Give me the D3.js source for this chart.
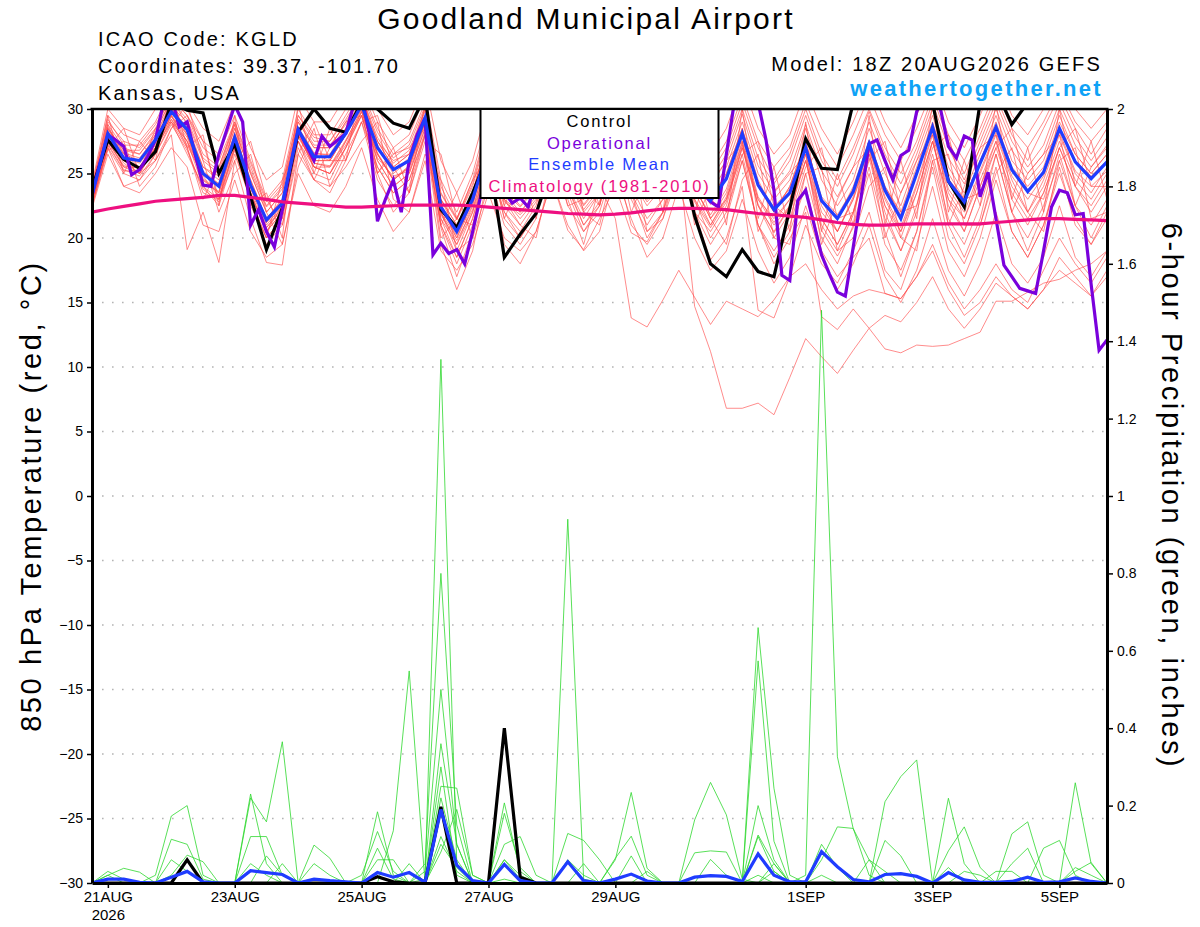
<!DOCTYPE html>
<html>
<head>
<meta charset="utf-8">
<script src="https://d3js.org/d3.v7.min.js"></script>
<style>
  body { margin: 0; background: #fff; }
  text { font-family: "Liberation Sans", Arial, sans-serif; }
</style>
</head>
<body>
<svg id="chart" width="1200" height="927"></svg>
<script>
// ---- data -------------------------------------------------------------
// GEFS run 18Z 20AUG2026, 6-hourly steps (operational is 3-hourly)
const runStart = Date.UTC(2026, 7, 20, 18)
const HOUR = 3600 * 1000

const xTickDates = ['2026-08-21', '2026-08-23', '2026-08-25', '2026-08-27', '2026-08-29', '2026-09-01', '2026-09-03', '2026-09-05']
const xTickLabels = ['21AUG', '23AUG', '25AUG', '27AUG', '29AUG', '1SEP', '3SEP', '5SEP']
const tempTicks = [30, 25, 20, 15, 10, 5, 0, -5, -10, -15, -20, -25, -30]
const precipTicks = [0, 0.2, 0.4, 0.6, 0.8, 1, 1.2, 1.4, 1.6, 1.8, 2]
const precipTickLabels = ['0', '0.2', '0.4', '0.6', '0.8', '1', '1.2', '1.4', '1.6', '1.8', '2']

// 850 hPa temperature (C)
const control = [23.8, 27.6,26.1,25.4,26.7, 30.5,29.9,29.7,25.0, 27.3,23.2,19.1,22.3, 28.2,30.0,28.5,28.2, 30.5,30.0,28.9,28.5, 31.0,22.2,20.8,23.5, 26.5,18.5,20.3,21.9, 25.5,27.0,25.0,26.0, 29.0,27.0,25.0,27.0, 27.0,21.7,18.0,17.0, 19.1,17.4,17.0,22.3, 27.7,25.4,25.3,30.5, 32.0,31.0,31.0,31.0, 30.5,24.4,22.4,30.5, 31.5,28.8,30.5,31.0, 32.0,31.0,30.5,31.0]

const ensMean = [23.3, 28.1,26.2,26.0,27.6, 29.8,28.4,25.0,24.0, 27.8,24.1,21.4,22.7, 28.4,26.3,26.3,28.1, 30.3,27.0,25.3,26.0, 29.3,22.4,20.5,23.0, 27.0,24.5,23.6,24.8, 28.0,26.0,24.0,25.0, 28.5,26.0,24.5,25.5, 28.5,24.5,22.9,24.6, 28.1,24.1,22.2,23.5, 27.0,22.9,21.5,23.6, 27.3,23.7,21.5,25.0, 28.6,24.4,22.8,25.8, 28.6,25.3,23.6,25.1, 28.5,25.9,24.6,25.9]

const climatology = [22.0, 22.25,22.45,22.65,22.85, 22.95,23.05,23.15,23.3, 23.3,23.15,23.0,22.8, 22.7,22.6,22.5,22.4, 22.4,22.45,22.5,22.55, 22.55,22.55,22.55,22.5, 22.4,22.3,22.2,22.1, 22.0,21.9,21.85,21.8, 21.85,21.95,22.1,22.25, 22.3,22.3,22.25,22.2, 22.05,21.9,21.8,21.7, 21.6,21.4,21.2,21.05, 21.0,21.0,21.05,21.1, 21.1,21.1,21.1,21.1, 21.2,21.3,21.4,21.5, 21.5,21.45,21.4,21.35]

// operational, 3-hourly (129 values)
const operational = [23.3, 25.8,28.0,27.6,27.1,24.9,25.3,26.3,27.6, 30.5,31.0,28.6,29.0,26.5,24.1,24.0,26.5, 28.4,30.3,29.0,21.0,22.2,20.5,19.3,22.2, 25.5,28.4,27.2,26.0,27.9,27.1,27.6,28.1, 30.3,31.0,28.0,21.3,23.0,24.5,22.0,26.0, 28.0,29.3,18.7,19.6,18.8,19.1,18.0,20.5, 23.2,25.5,24.5,23.6,22.7,23.1,22.4,24.5, 26.5,28.0,27.0,25.5,24.5,25.5,27.5,26.5, 28.5,29.5,28.0,26.5,25.0,26.0,27.5,26.5, 25.5,27.5,28.5,25.5,23.5,22.8,22.4,26.5, 30.5,32.0,32.0,30.5,27.6,23.7,17.1,16.7, 22.9,23.7,21.2,18.7,17.2,15.8,15.5,19.3, 23.2,27.3,27.6,26.0,24.5,26.4,26.8,29.8, 31.0,31.0,30.0,27.1,26.2,27.9,27.6,23.2, 25.1,21.5,17.9,17.0,16.1,15.9,15.7,19.0, 22.4,23.7,23.5,21.8,21.9,16.4,11.3,12.1]

// ensemble members, temperature
const tempMembers = [
  [23.0, 27.5,25.5,25.0,27.0, 29.5,27.0,23.5,23.0, 27.0,23.5,20.5,22.0, 28.0,25.5,25.0,27.5, 30.0,26.0,24.0,25.0, 28.5,21.5,19.5,22.0, 26.0,22.0,20.5,22.5, 27.0,24.0,21.5,23.5, 27.5,24.0,21.5,23.0, 26.0,14.7,11.2,6.8, 6.8,7.2,6.3,9.2, 12.2,10.8,9.5,11.3, 13.0,11.4,11.1,11.7, 11.6,11.7,12.2,12.7, 15.1,15.1,15.8,16.5, 16.8,17.5,18.0,19.0],
  [22.8, 27.0,25.0,24.5,26.5, 29.0,26.5,24.0,22.5, 26.5,23.0,20.0,21.5, 27.5,25.0,24.5,27.0, 29.5,25.5,23.5,24.5, 28.0,21.0,18.5,21.5, 26.5,21.5,20.0,22.0, 26.0,23.0,19.5,24.0, 21.5,13.8,13.1,15.2, 17.5,15.4,13.3,15.1, 14.5,13.9,15.2,17.0, 18.0,16.0,14.5,15.5, 16.0,15.7,15.3,17.0, 19.0,16.0,14.0,15.0, 17.0,15.5,14.5,16.0, 18.5,17.0,15.5,17.5],
  [23.5, 28.5,26.5,26.0,28.0, 30.5,28.0,24.5,23.5, 27.5,24.0,21.0,22.5, 28.5,26.0,26.0,28.0, 30.5,27.0,25.0,26.0, 29.0,22.0,19.5,22.5, 27.5,23.0,21.5,23.0, 27.5,24.5,22.0,23.5, 28.0,24.5,22.5,24.0, 27.0,22.0,18.3,20.0, 24.0,14.4,13.8,17.0, 21.0,18.0,16.5,19.0, 22.0,17.5,16.0,19.5, 24.0,19.0,17.0,20.0, 24.5,20.5,18.5,21.0, 25.0,21.5,19.5,22.0],
  [23.8, 29.0,27.5,27.0,28.5, 31.0,29.5,27.0,26.0, 29.0,25.5,22.5,24.0, 29.5,27.5,27.5,29.5, 31.5,28.5,26.5,27.5, 30.5,24.0,21.5,24.5, 29.0,26.0,24.5,26.0, 29.5,27.5,25.5,27.0, 30.0,28.0,26.0,27.5, 30.5,27.0,25.0,27.0, 30.5,27.0,24.5,26.5, 30.0,26.5,24.5,27.0, 30.0,27.0,25.0,27.5, 31.0,27.5,25.0,28.0, 31.0,28.0,26.0,28.5, 31.0,28.5,26.5,28.5],
  [23.0, 28.0,26.0,25.5,27.5, 30.0,28.5,25.5,24.5, 28.0,24.5,21.5,23.0, 28.5,26.5,26.5,28.5, 30.5,27.5,25.5,26.5, 29.5,23.0,20.5,23.5, 28.0,24.5,23.0,24.5, 28.5,26.0,23.5,25.0, 28.5,26.0,24.0,25.5, 29.0,25.5,23.0,25.0, 28.5,24.5,22.0,24.0, 27.5,23.0,20.5,23.0, 27.0,23.0,20.5,24.0, 28.0,23.5,21.5,25.0, 28.0,24.5,22.0,24.5, 28.0,25.0,23.5,25.5],
  [22.5, 27.0,24.0,24.5,26.0, 28.0,19.1,22.0,18.1, 26.0,21.5,18.1,17.9, 26.5,24.5,23.5,26.0, 29.0,24.5,22.5,24.0, 28.0,21.0,18.0,21.0, 26.0,22.0,20.0,22.0, 26.5,23.5,20.5,22.5, 27.0,23.5,20.0,22.0, 26.5,22.0,19.5,21.5, 26.0,21.0,19.0,21.0, 25.0,20.0,18.0,21.0, 25.5,20.5,17.0,20.5, 26.0,21.0,18.5,21.5, 26.5,22.0,19.0,22.0, 26.5,22.5,20.0,22.5],
  [23.2, 28.2,26.5,25.5,27.0, 29.5,27.5,25.0,24.0, 27.5,23.5,20.5,22.0, 28.0,25.5,25.5,27.5, 29.5,25.0,22.0,23.5, 28.0,19.5,16.0,19.0, 25.0,21.0,19.5,21.5, 26.5,22.5,20.5,22.0, 26.0,21.0,19.5,21.5, 26.0,23.0,21.0,23.0, 27.0,22.5,20.5,22.5, 26.5,21.5,19.5,22.0, 27.0,22.5,20.0,23.5, 27.5,23.0,20.5,24.0, 27.5,23.0,21.0,23.5, 27.0,24.0,22.0,24.0],
  [23.6, 28.8,27.0,26.5,28.0, 30.2,29.0,26.0,25.0, 28.5,25.0,22.0,23.5, 29.0,27.0,27.0,28.5, 30.8,27.5,26.0,26.5, 30.0,23.0,21.0,23.5, 28.0,25.0,23.5,25.0, 28.5,26.5,24.5,25.5, 29.0,26.5,24.5,26.0, 29.5,25.5,23.5,25.5, 29.0,25.0,23.0,24.5, 28.5,24.5,22.5,24.5, 28.5,25.0,22.5,26.0, 29.5,25.5,23.5,26.5, 29.5,26.0,24.5,26.0, 29.5,26.5,25.0,26.5],
  [22.7, 27.5,25.5,25.5,27.0, 29.0,27.5,24.0,23.0, 27.0,23.0,20.0,21.5, 27.5,25.5,25.0,27.0, 29.5,26.5,24.5,25.5, 29.0,22.0,19.0,22.0, 27.0,23.0,22.0,23.5, 27.5,25.0,22.5,24.0, 28.0,25.0,23.0,24.5, 28.0,24.0,21.5,23.5, 27.5,23.0,21.0,22.5, 26.0,21.5,19.5,22.0, 26.5,22.0,19.0,22.5, 27.5,22.5,20.5,24.0, 27.0,23.5,21.5,23.5, 27.0,24.0,22.5,24.5],
  [23.4, 28.0,26.0,26.0,27.5, 29.5,28.0,25.0,24.0, 28.0,24.5,21.5,23.0, 28.5,26.5,26.0,28.0, 30.0,26.5,24.5,25.5, 29.0,22.5,20.0,23.0, 27.0,23.5,22.0,23.5, 27.0,24.0,21.0,22.5, 27.0,23.0,20.5,22.0, 27.0,23.0,20.0,22.0, 26.0,21.0,18.5,20.5, 24.0,19.0,17.0,18.5, 20.0,15.7,15.3,17.0, 19.5,16.5,14.5,16.0, 18.0,16.0,15.0,17.5, 20.0,18.0,16.5,18.5],
  [23.1, 28.5,26.8,26.5,28.2, 30.8,28.8,25.5,24.8, 28.5,25.0,22.0,23.5, 29.0,27.0,27.0,29.0, 31.0,27.5,25.5,26.5, 29.8,23.0,21.0,23.5, 28.0,25.5,24.0,25.0, 28.5,26.5,24.5,25.5, 29.0,26.5,24.5,26.0, 29.0,25.0,23.0,25.0, 28.5,24.0,22.0,24.0, 27.5,23.0,21.5,24.0, 27.5,24.0,22.0,25.5, 29.0,25.0,23.0,26.0, 29.0,25.5,24.0,25.5, 29.0,26.5,25.0,26.5],
  [22.9, 27.8,25.8,25.0,27.0, 29.2,27.5,24.5,23.5, 27.2,23.5,20.5,22.5, 28.2,25.5,25.0,27.0, 29.8,26.0,24.0,25.0, 28.5,21.5,18.5,21.5, 25.5,19.5,18.0,20.5, 24.5,20.6,19.1,21.5, 24.0,20.4,19.7,22.0, 25.5,22.0,20.5,22.5, 27.0,23.0,21.5,23.0, 26.5,22.0,20.5,23.0, 26.5,22.5,20.5,23.5, 27.5,23.0,21.5,24.5, 27.5,24.0,22.0,24.0, 27.5,24.5,23.0,25.0],
  [23.3, 28.3,26.3,25.8,27.3, 29.8,28.0,25.0,24.2, 27.8,24.0,21.2,22.8, 28.3,26.0,26.0,28.0, 30.2,26.5,24.5,25.5, 29.2,22.2,20.2,22.8, 27.2,24.0,22.5,24.0, 28.0,25.5,23.0,24.5, 28.5,25.5,23.5,25.0, 28.0,24.0,21.5,23.0, 26.5,21.0,18.0,20.0, 22.0,13.9,12.9,14.5, 13.0,14.0,13.5,15.0, 17.0,14.5,13.0,14.5, 16.5,15.5,14.5,16.0, 17.5,16.5,15.5,17.0],
  [24.0, 29.5,28.0,27.5,29.0, 31.5,30.0,27.5,26.5, 29.5,26.0,23.0,24.5, 30.0,28.0,28.0,30.0, 32.0,29.0,27.0,28.0, 31.0,24.5,22.0,25.0, 29.5,26.5,25.0,26.5, 30.0,28.0,26.0,27.5, 30.5,28.5,26.5,28.0, 30.5,27.5,25.5,27.5, 31.0,27.5,25.5,27.0, 30.5,27.5,25.5,28.0, 31.0,28.0,26.0,28.5, 31.5,28.0,26.0,28.5, 31.5,28.5,27.0,29.0, 31.5,29.0,27.5,29.0],
  [22.6, 27.2,25.2,25.2,26.8, 29.2,27.2,24.8,23.2, 27.0,23.2,20.8,22.2, 27.8,25.8,25.5,27.2, 29.8,26.2,24.8,25.2, 28.8,21.8,19.8,22.2, 26.8,22.8,21.8,23.2, 27.2,24.8,22.2,23.8, 27.8,24.8,22.8,24.2, 27.8,23.8,21.8,23.8, 27.8,23.2,21.2,23.0, 27.0,22.5,20.5,23.2, 27.2,23.2,20.8,24.2, 28.2,23.8,22.0,25.2, 28.2,24.8,23.0,24.8, 28.2,25.2,24.0,25.2],
  [22.9, 27.3,25.3,24.8,26.5, 28.8,26.8,23.8,22.8, 26.8,22.8,19.5,21.0, 27.0,24.5,24.0,26.5, 29.0,25.5,23.5,24.5, 28.2,20.8,17.0,20.5, 26.0,22.5,21.0,22.8, 26.8,23.8,21.0,22.8, 27.0,23.5,21.0,23.0, 26.8,22.8,20.8,22.8, 27.2,22.5,20.0,22.0, 26.0,21.0,19.0,21.8, 26.2,21.5,19.0,22.0, 26.5,21.5,19.5,22.5, 26.5,22.0,20.0,22.5, 26.0,22.5,21.0,23.0],
  [23.9, 29.2,27.2,27.2,28.8, 30.8,29.5,26.5,25.5, 29.0,25.8,22.8,24.2, 29.5,27.8,27.5,29.2, 31.2,28.2,26.2,27.2, 30.2,23.5,21.5,24.2, 28.8,26.2,24.8,26.2, 29.2,27.2,25.2,26.5, 29.8,27.2,25.5,27.0, 30.2,26.5,24.5,26.5, 30.0,26.2,24.2,26.0, 29.5,26.0,24.0,26.5, 29.8,26.5,24.2,27.0, 30.5,27.0,24.5,27.5, 30.5,27.5,25.5,27.2, 30.5,27.8,26.0,27.8],
  [23.2, 28.6,26.6,26.2,27.8, 30.0,28.6,25.2,24.2, 28.2,24.2,21.2,22.6, 28.6,26.6,26.4,28.2, 30.4,27.2,25.2,26.2, 29.4,22.6,20.6,23.2, 27.8,24.8,23.2,24.6, 28.2,26.2,23.8,25.2, 28.8,26.2,24.2,25.2, 28.6,24.6,22.6,24.8, 28.4,24.2,22.4,23.8, 27.2,23.2,21.8,23.8, 27.6,24.0,21.8,25.2, 28.8,24.6,23.0,26.0, 28.8,25.4,23.6,25.2, 28.6,26.0,24.8,26.0],
  [23.0, 27.6,25.6,25.4,27.2, 29.4,27.8,24.6,23.6, 27.4,23.8,20.8,22.4, 28.0,25.8,25.6,27.6, 29.8,26.6,24.6,25.6, 29.0,22.0,20.0,22.6, 27.2,23.6,22.4,23.8, 27.6,25.2,22.6,24.2, 28.0,25.0,23.0,24.6, 28.0,23.6,21.0,23.2, 27.4,22.6,20.4,22.4, 26.0,20.6,18.6,20.8, 25.0,19.5,17.5,20.5, 25.5,20.0,18.0,21.0, 25.5,20.5,18.5,21.0, 25.5,21.0,19.5,21.5],
  [23.5, 28.4,26.8,26.8,28.4, 30.6,29.2,26.2,25.2, 28.8,25.2,22.4,23.8, 29.2,27.2,27.2,28.8, 31.0,27.8,25.8,26.8, 30.0,23.4,21.4,24.0, 28.4,25.6,24.2,25.6, 28.8,26.8,24.8,26.0, 29.4,26.8,25.0,26.5, 29.8,26.2,24.2,26.0, 29.6,25.6,23.6,25.2, 28.8,25.2,23.2,25.5, 29.0,25.8,23.5,26.5, 30.0,26.2,24.2,27.0, 30.0,26.8,25.0,26.5, 30.0,27.2,25.5,27.2],
  [22.5, 26.8,27.5,24.0,25.5, 28.5,30.5,26.0,22.0, 25.0,26.5,22.0,19.5, 25.5,28.5,24.0,25.5, 27.5,29.0,23.0,22.0, 26.5,24.5,19.0,20.0, 24.0,23.0,21.0,20.0, 25.5,27.0,22.0,21.0, 26.0,27.0,20.5,21.5, 25.0,26.0,21.5,19.5, 24.5,26.5,20.0,19.5, 25.0,25.5,19.0,20.0, 24.0,25.5,20.0,19.0, 26.0,26.5,21.0,21.0, 25.0,27.0,22.0,20.5, 26.0,27.0,21.5,22.0],
  [23.6, 29.5,25.0,27.5,26.0, 31.5,27.0,28.0,22.5, 29.5,22.5,23.5,20.0, 30.5,25.0,28.5,26.0, 32.0,25.0,27.0,23.5, 30.5,21.0,23.5,20.0, 29.0,22.5,25.5,21.5, 30.0,23.5,26.0,22.5, 30.5,24.0,26.5,22.0, 31.0,22.0,26.0,21.0, 30.0,21.5,25.5,20.5, 29.0,20.5,25.0,21.0, 29.5,21.0,26.0,21.5, 30.5,22.0,26.0,22.5, 30.5,23.0,27.0,22.0, 30.0,24.0,27.5,23.0],
  [22.3, 26.5,24.0,23.5,25.0, 27.0,25.5,21.0,20.5, 24.5,20.5,18.5,19.5, 25.0,22.5,22.0,24.0, 27.0,23.0,20.5,22.0, 26.0,19.0,17.5,19.5, 23.5,20.0,19.0,20.5, 24.5,21.0,19.0,20.5, 25.0,21.5,18.5,20.0, 24.0,20.0,17.5,19.0, 23.0,19.0,16.5,18.5, 22.5,18.5,16.0,18.0, 21.0,17.0,15.0,17.5, 21.5,17.5,15.5,18.0, 22.0,18.0,16.5,18.5, 22.5,18.5,17.0,19.0],
  [24.2, 30.0,28.5,28.0,30.0, 32.0,30.5,28.5,27.5, 30.5,27.0,24.5,25.5, 31.0,29.0,29.0,31.0, 33.0,30.0,28.0,29.0, 32.0,26.0,23.5,26.0, 30.5,28.0,26.0,27.5, 31.0,29.0,27.0,28.5, 31.5,29.5,27.5,29.0, 31.5,28.5,26.5,28.5, 32.0,28.5,26.5,28.0, 31.5,28.5,26.5,29.0, 32.0,29.0,27.0,29.5, 32.5,29.0,27.0,29.5, 32.5,29.5,28.0,30.0, 32.5,30.0,28.5,30.0],
  [23.0, 27.0,28.5,25.0,26.0, 28.5,29.5,27.5,23.0, 26.0,27.5,23.0,21.0, 26.5,29.0,26.0,26.0, 29.0,29.5,25.5,23.5, 27.5,26.5,21.5,21.0, 25.5,27.0,23.0,22.0, 26.5,28.0,24.0,22.5, 27.0,28.5,24.5,23.0, 27.0,27.5,23.0,22.0, 26.5,27.5,22.5,21.5, 25.5,27.0,21.5,22.0, 26.0,27.5,22.0,22.5, 27.0,28.0,23.0,23.5, 27.0,28.5,23.5,23.0, 27.0,28.5,24.0,24.0],
  [23.4, 28.8,26.0,25.0,28.5, 29.0,27.0,23.0,25.5, 28.8,22.5,20.0,24.5, 27.5,24.5,27.0,29.0, 29.5,25.0,26.5,27.0, 28.5,20.0,21.5,24.5, 26.5,21.5,24.5,25.0, 27.5,22.5,23.0,26.0, 27.5,22.0,25.0,26.5, 28.0,21.0,24.0,26.0, 27.5,20.5,23.5,25.0, 26.5,19.5,23.0,25.5, 27.0,20.0,23.5,26.0, 28.0,21.0,24.0,27.0, 28.0,22.0,25.0,26.5, 28.0,22.5,25.5,27.0]
]

// 6-hour precipitation (inches)
const controlPrecip = [0, 0,0,0,0, 0,0.06,0,0, 0,0,0,0, 0,0,0,0, 0,0.016,0.003,0, 0,0.197,0,0, 0,0.40,0.015,0, 0,0,0,0, 0,0,0,0, 0,0,0,0, 0,0,0,0, 0,0,0,0, 0,0,0,0, 0,0,0,0, 0,0,0,0, 0,0,0,0]

const meanPrecip = [0, 0.01,0.01,0.002,0, 0.015,0.03,0.003,0, 0,0.032,0.027,0.022, 0,0.01,0.006,0.003, 0,0.027,0.015,0.027, 0.002,0.19,0.046,0.006, 0,0.048,0.006,0, 0,0.055,0.006,0, 0.01,0.023,0.005,0, 0,0.015,0.019,0.017, 0.004,0.075,0.02,0.003, 0.003,0.081,0.042,0.009, 0.003,0.022,0.024,0.017, 0,0.027,0.008,0.002, 0.002,0.004,0.015,0.002, 0.003,0.013,0.004,0]

const precipMembers = [
  [0, 0,0,0,0, 0,0,0,0, 0,0,0,0.05, 0,0,0,0, 0,0,0,0, 0.01,1.353,0.05,0, 0,0.01,0,0, 0,0,0,0, 0,0,0,0, 0,0,0,0, 0,0.02,0,0, 0,0.02,0,0, 0,0,0,0, 0,0,0,0, 0,0,0,0, 0,0,0,0],
  [0, 0,0,0,0, 0,0,0,0, 0,0,0,0, 0,0,0,0, 0,0,0,0, 0,0.3,0.02,0, 0,0,0,0, 0,0,0,0, 0,0,0,0, 0,0,0,0, 0,0,0,0, 0.02,1.48,0.326,0.14, 0.06,0,0,0, 0,0,0,0, 0,0,0,0, 0,0,0,0],
  [0, 0,0,0,0, 0,0,0,0, 0,0.23,0.05,0, 0,0,0,0, 0,0,0,0, 0,0,0,0, 0,0,0,0, 0,0.94,0.01,0, 0,0,0,0, 0,0,0,0, 0,0.12,0.03,0, 0,0,0,0, 0,0,0,0, 0,0,0,0, 0,0,0,0, 0,0,0,0],
  [0, 0,0,0,0, 0,0,0,0, 0,0,0,0, 0,0,0,0, 0,0,0,0, 0.05,0.8,0.15,0, 0,0.207,0.03,0, 0,0,0,0, 0,0,0,0, 0,0,0,0, 0,0,0.05,0, 0,0,0,0, 0,0,0,0, 0,0,0,0, 0,0,0,0, 0,0,0,0],
  [0, 0,0,0,0, 0,0,0,0, 0,0,0,0, 0,0,0,0, 0,0,0,0.05, 0,0,0,0, 0,0,0,0, 0,0,0,0, 0,0,0,0, 0,0,0,0, 0,0.66,0.245,0.02, 0,0,0,0, 0,0,0,0, 0,0.219,0.05,0, 0,0,0,0, 0,0,0,0],
  [0, 0,0,0,0, 0,0,0,0, 0,0,0,0, 0,0,0,0, 0,0,0,0, 0,0.25,0.245,0.02, 0,0,0,0, 0,0,0,0, 0,0,0,0, 0,0,0,0, 0,0.574,0.108,0, 0,0,0,0, 0,0,0,0, 0,0,0,0, 0,0,0,0, 0,0,0,0],
  [0, 0,0,0,0, 0,0,0,0, 0,0,0,0, 0,0,0,0, 0,0,0.135,0.548, 0,0.36,0.1,0, 0,0,0,0, 0,0,0,0, 0,0,0,0, 0,0,0,0, 0,0,0,0, 0,0,0,0, 0,0,0,0, 0,0,0,0, 0,0,0,0, 0,0.259,0.05,0],
  [0, 0,0,0,0, 0,0,0,0, 0,0.22,0.158,0.365, 0,0,0,0, 0,0,0,0, 0,0,0,0, 0,0,0,0, 0,0,0,0, 0,0,0,0, 0,0.163,0.26,0.176, 0.01,0,0,0, 0,0,0,0, 0,0,0,0, 0,0,0,0, 0,0,0,0, 0,0,0,0],
  [0, 0,0,0,0.02, 0.173,0.2,0.02,0, 0,0,0,0, 0,0,0,0, 0,0.184,0.02,0, 0,0,0,0, 0,0,0,0, 0,0,0,0, 0,0,0,0, 0,0,0,0, 0,0,0,0, 0,0,0,0, 0,0.21,0.275,0.318, 0,0,0,0, 0,0,0,0, 0,0,0,0],
  [0, 0,0,0,0, 0,0,0,0, 0,0,0,0, 0,0,0,0, 0,0,0,0, 0.03,0.5,0.1,0, 0,0,0,0, 0,0,0,0, 0,0,0,0, 0,0,0,0, 0,0,0,0, 0,0,0,0, 0,0,0,0, 0,0.083,0.145,0.04, 0,0,0,0, 0,0,0,0],
  [0, 0,0,0,0, 0,0,0,0, 0,0,0,0, 0,0,0,0, 0,0,0,0, 0,0.18,0.05,0, 0,0,0,0, 0,0,0,0, 0.06,0.234,0.038,0, 0,0,0,0, 0,0,0,0, 0,0,0,0, 0,0,0,0, 0,0,0,0, 0,0.127,0.158,0.02, 0,0,0,0],
  [0, 0,0,0,0, 0.113,0.1,0.01,0, 0,0.12,0.12,0.02, 0,0.098,0.064,0, 0,0,0,0, 0,0,0,0, 0,0,0,0, 0,0,0,0, 0,0,0,0, 0,0,0,0, 0,0,0,0, 0,0,0,0, 0,0,0,0, 0,0,0,0, 0,0,0,0.09, 0.11,0.02,0,0],
  [0, 0,0,0,0, 0,0,0,0, 0,0,0,0, 0,0,0,0, 0,0,0,0, 0,0,0,0, 0,0.1,0.12,0.02, 0,0.128,0.11,0.06, 0,0,0,0, 0,0,0,0, 0,0,0,0, 0,0.06,0.145,0.141, 0.02,0,0,0, 0,0,0,0, 0,0,0,0, 0,0,0,0],
  [0, 0,0,0,0, 0,0,0,0, 0,0,0,0, 0,0,0,0, 0.02,0.133,0.03,0, 0,0.12,0.03,0, 0,0,0,0, 0,0,0,0, 0.064,0.121,0.02,0, 0,0,0,0, 0,0,0,0, 0,0,0,0, 0,0.11,0.07,0, 0,0,0,0, 0,0,0,0, 0,0,0,0],
  [0, 0,0,0,0, 0,0,0,0, 0,0.05,0.02,0, 0,0,0,0, 0,0,0,0, 0,0.08,0.19,0.02, 0,0.18,0.04,0, 0,0,0,0, 0,0,0,0, 0,0,0,0, 0,0.124,0.05,0, 0,0,0,0, 0,0,0,0, 0,0,0,0, 0,0,0,0, 0,0,0,0],
  [0, 0.02,0.038,0.028,0, 0,0,0,0, 0,0,0,0, 0,0,0,0, 0,0.09,0.01,0, 0,0,0,0, 0,0,0,0, 0,0,0,0, 0,0,0,0, 0,0.078,0.083,0.08, 0,0,0,0, 0,0,0,0, 0,0,0,0, 0,0,0.03,0.02, 0,0,0,0, 0,0,0,0],
  [0, 0,0,0,0, 0.02,0.072,0.055,0, 0,0,0,0, 0,0,0,0, 0,0,0,0, 0,0,0,0, 0,0.06,0.01,0, 0,0,0.05,0, 0,0,0,0, 0,0,0,0, 0,0.2,0.06,0, 0,0,0,0, 0,0,0,0, 0,0,0,0, 0,0.05,0.09,0, 0,0,0,0],
  [0, 0.03,0.01,0,0, 0,0,0,0, 0,0,0,0, 0,0.05,0.02,0, 0,0.06,0.06,0, 0,0,0,0, 0,0,0,0, 0,0,0,0, 0,0,0,0, 0,0,0.061,0.02, 0,0,0,0, 0,0,0,0, 0.06,0.03,0,0, 0,0,0,0, 0,0,0,0, 0,0.03,0.053,0],
  [0, 0,0,0,0, 0,0,0,0, 0,0,0.07,0.02, 0,0,0,0, 0,0,0,0, 0,0.1,0.04,0, 0,0.06,0.02,0, 0,0.06,0.02,0, 0,0.07,0,0, 0,0,0,0, 0,0,0,0, 0,0.1,0.04,0, 0,0,0,0, 0,0,0,0, 0,0,0,0, 0,0.04,0.02,0],
  [0, 0.02,0,0,0, 0.06,0.03,0,0, 0,0,0,0, 0,0,0,0, 0,0,0,0, 0,0.22,0.06,0, 0,0,0,0, 0,0,0,0, 0,0,0.03,0, 0,0,0,0, 0,0,0.03,0, 0,0,0,0, 0,0,0,0, 0,0.04,0,0, 0.03,0.03,0,0, 0,0,0,0]
]

// ---- layout -------------------------------------------------------------
const plot = { left: 92, right: 1107, top: 109, bottom: 883 }
const FONT = '"Liberation Sans", Arial, sans-serif'

const svg = d3.select('#chart')
svg.append('rect').attr('width', 1200).attr('height', 927).attr('fill', '#fff')

const x = d3.scaleUtc()
  .domain([runStart, runStart + 64 * 6 * HOUR])
  .range([plot.left, plot.right])
const yT = d3.scaleLinear().domain([-30, 30]).range([plot.bottom, plot.top])
const yP = d3.scaleLinear().domain([0, 2]).range([plot.bottom, plot.top])

const tempLine = d3.line().x((d, i) => x(runStart + i * 6 * HOUR)).y(d => yT(d))
const tempLine3h = d3.line().x((d, i) => x(runStart + i * 3 * HOUR)).y(d => yT(d))
const precipLine = d3.line().x((d, i) => x(runStart + i * 6 * HOUR)).y(d => yP(d))

svg.append('clipPath').attr('id', 'plotclip')
  .append('rect')
  .attr('x', plot.left).attr('y', plot.top)
  .attr('width', plot.right - plot.left).attr('height', plot.bottom - plot.top)

// dotted grid at the temperature ticks
svg.append('g')
  .selectAll('line')
  .data(tempTicks.filter(d => d > -30 && d < 30))
  .join('line')
    .attr('x1', plot.left).attr('x2', plot.right)
    .attr('y1', d => yT(d)).attr('y2', d => yT(d))
    .attr('stroke', '#b4b4b4')
    .attr('stroke-width', 1.6)
    .attr('stroke-dasharray', '1.6 8.4')

const marks = svg.append('g').attr('clip-path', 'url(#plotclip)')

marks.append('g')
  .selectAll('path')
  .data(tempMembers)
  .join('path')
    .attr('d', tempLine)
    .attr('fill', 'none')
    .attr('stroke', '#ff4a4a')
    .attr('stroke-opacity', 0.8)
    .attr('stroke-width', 0.8)

marks.append('g')
  .selectAll('path')
  .data(precipMembers)
  .join('path')
    .attr('d', precipLine)
    .attr('fill', 'none')
    .attr('stroke', '#2fd82f')
    .attr('stroke-width', 0.8)

const thick = (g, d, color) => g.append('path')
  .attr('d', d)
  .attr('fill', 'none')
  .attr('stroke', color)
  .attr('stroke-width', 3.2)

thick(marks, precipLine(controlPrecip), '#000')
thick(marks, precipLine(meanPrecip), '#1f3cff')
thick(marks, tempLine(control), '#000')
thick(marks, tempLine3h(operational), '#7a00dc')
thick(marks, tempLine(ensMean), '#1f3cff')
thick(marks, tempLine(climatology), '#ee0f80')

// ---- axes -------------------------------------------------------------
const axisStyle = (g, size) => {
  g.select('.domain').attr('stroke', '#000').attr('stroke-width', 3)
  g.selectAll('.tick line').attr('stroke', '#000').attr('stroke-width', 1.5)
  g.selectAll('.tick text').attr('font-family', FONT).attr('font-size', size).attr('fill', '#000')
}

svg.append('g')
  .attr('transform', `translate(${plot.left},0)`)
  .call(d3.axisLeft(yT).tickValues(tempTicks).tickSize(5).tickSizeOuter(0).tickPadding(4))
  .call(g => axisStyle(g, 14))

svg.append('g')
  .attr('transform', `translate(${plot.right},0)`)
  .call(d3.axisRight(yP).tickValues(precipTicks).tickSize(6).tickSizeOuter(0).tickPadding(4)
    .tickFormat((d, i) => precipTickLabels[i]))
  .call(g => axisStyle(g, 14))

const xAxis = svg.append('g')
  .attr('transform', `translate(0,${plot.bottom})`)
  .call(d3.axisBottom(x)
    .tickValues(xTickDates.map(d => new Date(d + 'T00:00:00Z')))
    .tickSize(5).tickSizeOuter(0).tickPadding(3)
    .tickFormat((d, i) => xTickLabels[i]))
  .call(g => axisStyle(g, 15))

xAxis.select('.tick text').clone(true)
  .attr('dy', '1.95em')
  .text('2026')

svg.append('line')
  .attr('x1', plot.left - 1.5).attr('x2', plot.right + 1.5)
  .attr('y1', plot.top).attr('y2', plot.top)
  .attr('stroke', '#000').attr('stroke-width', 2.5)

// ---- legend -------------------------------------------------------------
const legend = [
  { label: 'Control', color: '#000' },
  { label: 'Operational', color: '#7a00dc' },
  { label: 'Ensemble Mean', color: '#1f3cff' },
  { label: 'Climatology (1981-2010)', color: '#ee0f80' }
]
const lg = svg.append('g')
lg.append('rect')
  .attr('x', 480.5).attr('y', plot.top)
  .attr('width', 238).attr('height', 89)
  .attr('fill', '#fff').attr('stroke', '#000').attr('stroke-width', 2)
lg.selectAll('text')
  .data(legend)
  .join('text')
    .attr('x', (plot.left + plot.right) / 2)
    .attr('y', (d, i) => 127 + i * 21.5)
    .attr('text-anchor', 'middle')
    .attr('font-size', 16.5)
    .attr('letter-spacing', 1.8)
    .attr('fill', d => d.color)
    .text(d => d.label)

// ---- titles -------------------------------------------------------------
const label = (txt, xx, yy, size, opts = {}) => svg.append('text')
  .attr('x', xx).attr('y', yy)
  .attr('font-size', size)
  .attr('letter-spacing', opts.spacing || 0)
  .attr('text-anchor', opts.anchor || 'start')
  .attr('font-weight', opts.weight || 'normal')
  .attr('fill', opts.color || '#000')
  .attr('transform', opts.rotate ? `rotate(${opts.rotate},${xx},${yy})` : null)
  .text(txt)

label('Goodland Municipal Airport', 586, 29, 30, { anchor: 'middle', spacing: 2.2 })
label('ICAO Code: KGLD', 98, 46, 20, { spacing: 2.2 })
label('Coordinates: 39.37, -101.70', 98, 73, 20, { spacing: 2.0 })
label('Kansas, USA', 98, 100, 20, { spacing: 2.2 })
label('Model: 18Z 20AUG2026 GEFS', 1102, 71, 20, { anchor: 'end', spacing: 2.2 })
label('weathertogether.net', 1103, 96, 22, { anchor: 'end', spacing: 2.3, weight: 'bold', color: '#0ea2f6' })

label('850 hPa Temperature (red, °C)', 41, 496, 29, { anchor: 'middle', spacing: 2.6, rotate: -90 })
label('6-hour Precipitation (green, inches)', 1162, 496, 29, { anchor: 'middle', spacing: 2.6, rotate: 90 })
</script>
</body>
</html>
